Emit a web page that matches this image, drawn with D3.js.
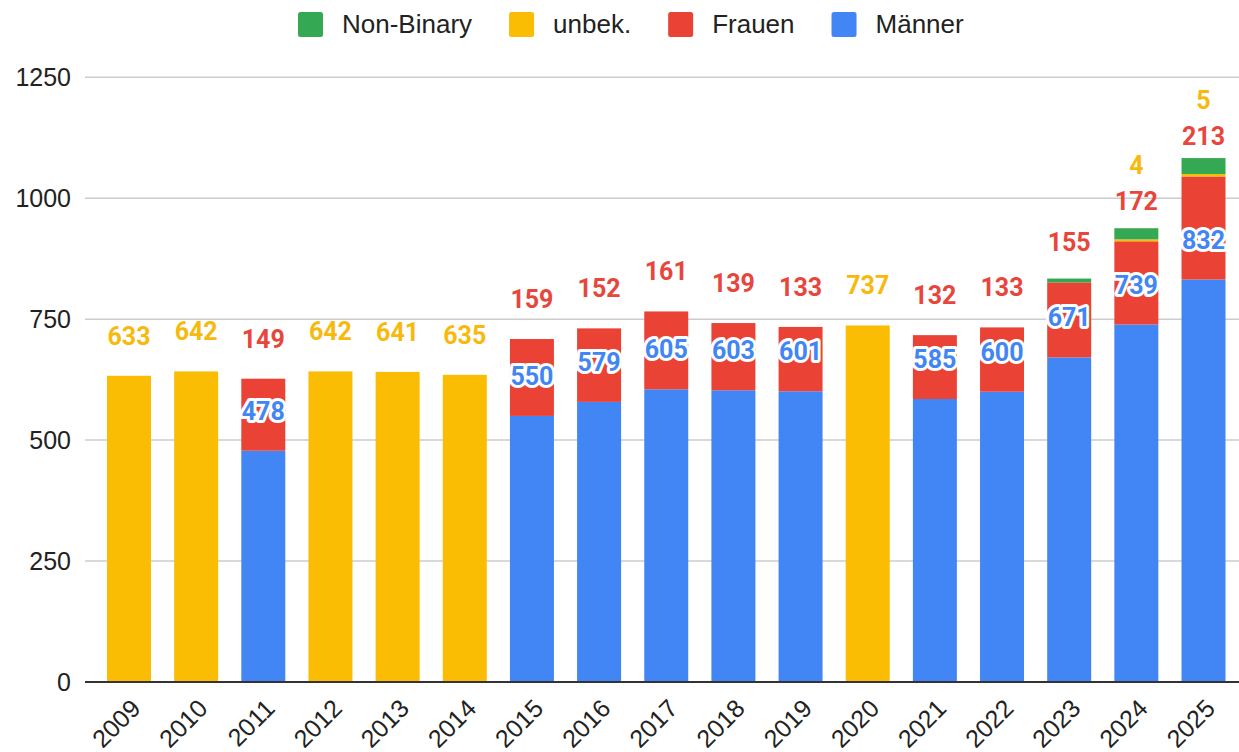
<!DOCTYPE html>
<html><head><meta charset="utf-8">
<script src="https://cdn.jsdelivr.net/npm/d3@7"></script>
<style>
html,body{margin:0;padding:0;background:#fff;}
svg{display:block;}
</style></head>
<body>
<svg id="chart" width="1239" height="752"></svg>
<script>
const years = ["2009","2010","2011","2012","2013","2014","2015","2016","2017","2018","2019","2020","2021","2022","2023","2024","2025"];
const maenner   = [0,0,478,0,0,0,550,579,605,603,601,0,585,600,671,739,832];
const frauen    = [0,0,149,0,0,0,159,152,161,139,133,0,132,133,155,172,213];
const unbek     = [633,642,0,642,641,635,0,0,0,0,0,737,0,0,0,4,5];
const nonbinary = [0,0,0,0,0,0,0,0,0,0,0,0,0,0,8,23,33];
const yTicks = [0,250,500,750,1000,1250];

const seriesNames = ["Männer","Frauen","unbek.","Non-Binary"];
const seriesVals = [maenner, frauen, unbek, nonbinary];
const colors = {"Männer":"#4285f4","Frauen":"#ea4335","unbek.":"#fbbc04","Non-Binary":"#34a853"};
const labelColors = {"Männer":"#4285f4","Frauen":"#e8453c","unbek.":"#f7b90c"};
const legendOrder = ["Non-Binary","unbek.","Frauen","Männer"];

const svg = d3.select("#chart");
const x = d3.scaleBand().domain(years).range([107, 1225.5]).paddingInner(0.345).paddingOuter(0);
const y = d3.scaleLinear().domain([0,1250]).range([682, 77.3]);

const table = years.map((yr,i)=>{
  const o = {year: yr};
  seriesNames.forEach((s,k)=>o[s]=seriesVals[k][i]);
  return o;
});
const stacked = d3.stack().keys(seriesNames)(table);

// gridlines
svg.append("g").selectAll("line").data(yTicks.filter(t=>t>0)).join("line")
  .attr("x1",85).attr("x2",1239)
  .attr("y1",d=>y(d)).attr("y2",d=>y(d))
  .attr("stroke","#cccccc").attr("stroke-width",1.5);

// y axis labels
const yAxis = svg.append("g").attr("transform","translate(71,0)")
  .call(d3.axisLeft(y).tickValues(yTicks).tickFormat(d3.format("d")).tickSize(0).tickPadding(0));
yAxis.select(".domain").remove();
yAxis.selectAll("text").attr("font-family","Liberation Sans, Arial, sans-serif")
  .attr("font-size",25).attr("fill","#222");

// bars
svg.append("g").selectAll("g").data(stacked).join("g")
  .attr("fill",d=>colors[d.key])
  .selectAll("rect").data(d=>d.filter(p=>p[1]-p[0]>0)).join("rect")
  .attr("x",d=>x(d.data.year)).attr("width",x.bandwidth())
  .attr("y",d=>y(d[1])).attr("height",d=>y(d[0])-y(d[1]));

// baseline
svg.append("line").attr("x1",85).attr("x2",1239).attr("y1",682).attr("y2",682)
  .attr("stroke","#333").attr("stroke-width",2);

// x axis labels
const xAxis = svg.append("g").attr("transform","translate(0,682)")
  .call(d3.axisBottom(x).tickSize(0));
xAxis.select(".domain").remove();
xAxis.selectAll("text")
  .attr("font-family","Liberation Sans, Arial, sans-serif")
  .attr("font-size",25).attr("fill","#222")
  .attr("text-anchor","end")
  .attr("dy",null).attr("y",null)
  .attr("transform","translate(13,28) rotate(-45)");

// data labels
const lab = svg.append("g").attr("font-family","Roboto, sans-serif").attr("font-weight","bold")
  .attr("font-size",25).attr("text-anchor","middle");
const off = 31, gap = 36;
years.forEach((yr,i)=>{
  const cx = x(yr)+x.bandwidth()/2;
  let top = 0;
  let lastBase = Infinity;
  [0,1,2].forEach(k=>{
    const v = seriesVals[k][i];
    const name = seriesNames[k];
    const end = top + v;
    top = end;
    if(v<=0) return;
    let base = y(end)-off;
    if(name==="Männer" && frauen[i]>0){
      lab.append("text").attr("x",cx).attr("y",base).text(v)
        .attr("fill",labelColors[name]).attr("stroke","#fff").attr("stroke-width",6)
        .attr("stroke-linejoin","round").attr("paint-order","stroke");
      return;
    }
    if(base > lastBase - gap) base = lastBase - gap;
    lastBase = base;
    lab.append("text").attr("x",cx).attr("y",base).text(v).attr("fill",labelColors[name]);
  });
});

// legend
const leg = svg.append("g");
let lx = 298;
legendOrder.forEach(name=>{
  const g = leg.append("g").attr("transform",`translate(${lx},0)`);
  g.append("rect").attr("x",0).attr("y",12).attr("width",25).attr("height",25)
    .attr("rx",2.5).attr("fill",colors[name]);
  const t = g.append("text").attr("x",44).attr("y",33)
    .attr("font-family","Liberation Sans, Arial, sans-serif").attr("font-size",26)
    .attr("fill","#222").text(name);
  lx += 44 + t.node().getComputedTextLength() + 37;
});
</script>
</body></html>
